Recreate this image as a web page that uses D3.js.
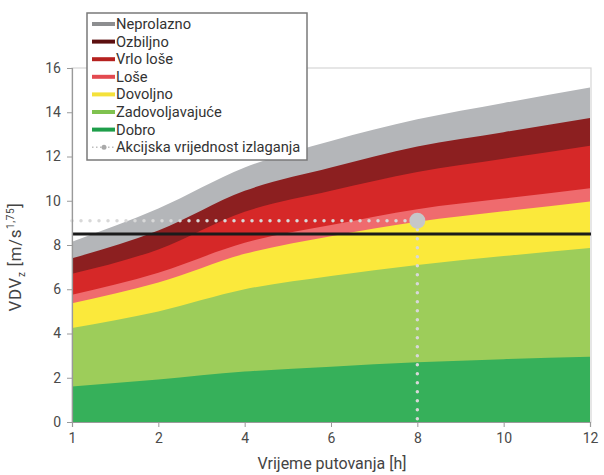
<!DOCTYPE html>
<html>
<head>
<meta charset="utf-8">
<script src="https://cdn.jsdelivr.net/npm/d3@7"></script>
<style>
  body { margin: 0; background: #fff; }
  svg text { font-family: Roboto, "Open Sans", sans-serif; }
</style>
</head>
<body>
<div id="chart"></div>
<script>
// travel time categories (hours), equally spaced on the axis
const hours = ["1", "2", "4", "6", "8", "10", "12"];
const yTicks = [0, 2, 4, 6, 8, 10, 12, 14, 16];

// upper edge of each band (cumulative VDV values)
const neprolazno      = [8.15, 9.65, 11.5, 12.7, 13.68, 14.42, 15.12];
const ozbiljno        = [7.4, 8.65, 10.45, 11.5, 12.45, 13.1, 13.74];
const vrloLose        = [6.7, 7.8, 9.5, 10.45, 11.3, 11.9, 12.49];
const lose            = [5.75, 6.75, 8.1, 8.9, 9.62, 10.1, 10.57];
const dovoljno        = [5.37, 6.3, 7.6, 8.4, 9.05, 9.52, 9.97];
const zadovoljavajuce = [4.25, 5.0, 6.0, 6.6, 7.1, 7.5, 7.87];
const dobro           = [1.6, 1.92, 2.28, 2.5, 2.7, 2.84, 2.95];

const limitValue = 8.5;          // black horizontal line
const actionValue = 9.1;         // exposure action value
const actionHour = "8";

const bands = [
  {name: "Neprolazno", values: neprolazno, fill: "#b4b6b9", legend: "#8d8e90"},
  {name: "Ozbiljno", values: ozbiljno, fill: "#8c1f20", legend: "#5c0f10"},
  {name: "Vrlo loše", values: vrloLose, fill: "#d62828", legend: "#b5211f"},
  {name: "Loše", values: lose, fill: "#ef6b6e", legend: "#e34a50"},
  {name: "Dovoljno", values: dovoljno, fill: "#fbe93b", legend: "#f4e13a"},
  {name: "Zadovoljavajuće", values: zadovoljavajuce, fill: "#9dcd5a", legend: "#7fc24f"},
  {name: "Dobro", values: dobro, fill: "#36b05a", legend: "#1e9e4a"}
];

const width = 604, height = 475;
const margin = {left: 72, right: 590, top: 68, bottom: 422};

const svg = d3.select("#chart").append("svg")
  .attr("width", width)
  .attr("height", height);

const x = d3.scalePoint().domain(hours).range([margin.left, margin.right]);
const y = d3.scaleLinear().domain([0, 16]).range([margin.bottom, margin.top]);

// light frame round the plot
svg.append("rect")
  .attr("x", margin.left).attr("y", y(16))
  .attr("width", margin.right - margin.left + 1).attr("height", margin.bottom - y(16))
  .attr("fill", "none")
  .attr("stroke", "#d6d6d6")
  .attr("stroke-width", 1.2);

// bands, drawn from the top one down so each lower band covers the last
const area = d3.area()
  .x((d, i) => x(hours[i]))
  .y0(y(0))
  .y1(d => y(d))
  .curve(d3.curveMonotoneX);

svg.append("g")
  .selectAll("path")
  .data(bands)
  .enter()
  .append("path")
  .attr("d", d => area(d.values))
  .attr("fill", d => d.fill);

// action value: dotted lines + marker
const dotStyle = sel => sel
  .attr("stroke", "#d8d8d8")
  .attr("stroke-width", 3.5)
  .attr("stroke-linecap", "round")
  .attr("stroke-dasharray", "0,9");

svg.append("line")
  .attr("x1", x(hours[0])).attr("x2", x(actionHour))
  .attr("y1", y(actionValue)).attr("y2", y(actionValue))
  .call(dotStyle);

svg.append("line")
  .attr("x1", x(actionHour)).attr("x2", x(actionHour))
  .attr("y1", y(actionValue)).attr("y2", y(0))
  .call(dotStyle);

// limit line
svg.append("line")
  .attr("x1", margin.left).attr("x2", margin.right + 1)
  .attr("y1", y(limitValue)).attr("y2", y(limitValue))
  .attr("stroke", "#1b1b1b")
  .attr("stroke-width", 3);

svg.append("circle")
  .attr("cx", x(actionHour))
  .attr("cy", y(actionValue))
  .attr("r", 8)
  .attr("fill", "#c6c7c9");

// axes
const xAxis = svg.append("g")
  .attr("transform", "translate(0," + margin.bottom + ")")
  .call(d3.axisBottom(x).tickSize(5).tickPadding(6));

const yAxis = svg.append("g")
  .attr("transform", "translate(" + margin.left + ",0)")
  .call(d3.axisLeft(y).tickValues(yTicks).tickSize(5).tickPadding(6));

[xAxis, yAxis].forEach(g => {
  g.select(".domain").attr("stroke", "#9a9a9a").attr("stroke-width", 1.2);
  g.selectAll(".tick line").attr("stroke", "#9a9a9a");
  g.selectAll(".tick text")
    .attr("fill", "#4a4a4a")
    .style("font-size", "14px")
    .style("font-family", "Roboto, sans-serif");
});

// axis titles
svg.append("text")
  .attr("x", 332)
  .attr("y", 469)
  .attr("text-anchor", "middle")
  .attr("fill", "#444")
  .style("font-size", "16px")
  .text("Vrijeme putovanja [h]");

const yTitle = svg.append("text")
  .attr("transform", "translate(21," + 257 + ") rotate(-90)")
  .attr("text-anchor", "middle")
  .attr("fill", "#444")
  .style("font-size", "17px")
  .style("letter-spacing", "0.6px");
yTitle.append("tspan").text("VDV");
yTitle.append("tspan").attr("dy", 4).style("font-size", "10px").text("z");
yTitle.append("tspan").attr("dy", -4).text(" [m/s");
yTitle.append("tspan").attr("dy", -7).style("font-size", "10px").text("1,75");
yTitle.append("tspan").attr("dy", 7).text("]");

// legend
const legend = svg.append("g").attr("transform", "translate(87,13)");
legend.append("rect")
  .attr("width", 220).attr("height", 147)
  .attr("fill", "#fff")
  .attr("stroke", "#7a7a7a")
  .attr("stroke-width", 1.5);

const rowH = 17.6;
const rows = legend.selectAll("g.row")
  .data(bands)
  .enter()
  .append("g")
  .attr("class", "row")
  .attr("transform", (d, i) => "translate(0," + (11 + i * rowH) + ")");

rows.append("line")
  .attr("x1", 5).attr("x2", 28)
  .attr("stroke", d => d.legend)
  .attr("stroke-width", 4);

rows.append("text")
  .attr("x", 29).attr("y", 5)
  .attr("fill", "#333")
  .style("font-size", "14.7px")
  .text(d => d.name);

const akc = legend.append("g")
  .attr("transform", "translate(0," + (11 + 7 * rowH) + ")");
akc.append("line")
  .attr("x1", 5).attr("x2", 28)
  .attr("stroke", "#bdbdbd")
  .attr("stroke-width", 1.5)
  .attr("stroke-dasharray", "1.5,2.5");
akc.append("circle").attr("cx", 17).attr("r", 2.5).attr("fill", "#a9a9a9");
akc.append("text")
  .attr("x", 29).attr("y", 5)
  .attr("fill", "#333")
  .style("font-size", "14.7px")
  .text("Akcijska vrijednost izlaganja");
</script>
</body>
</html>
